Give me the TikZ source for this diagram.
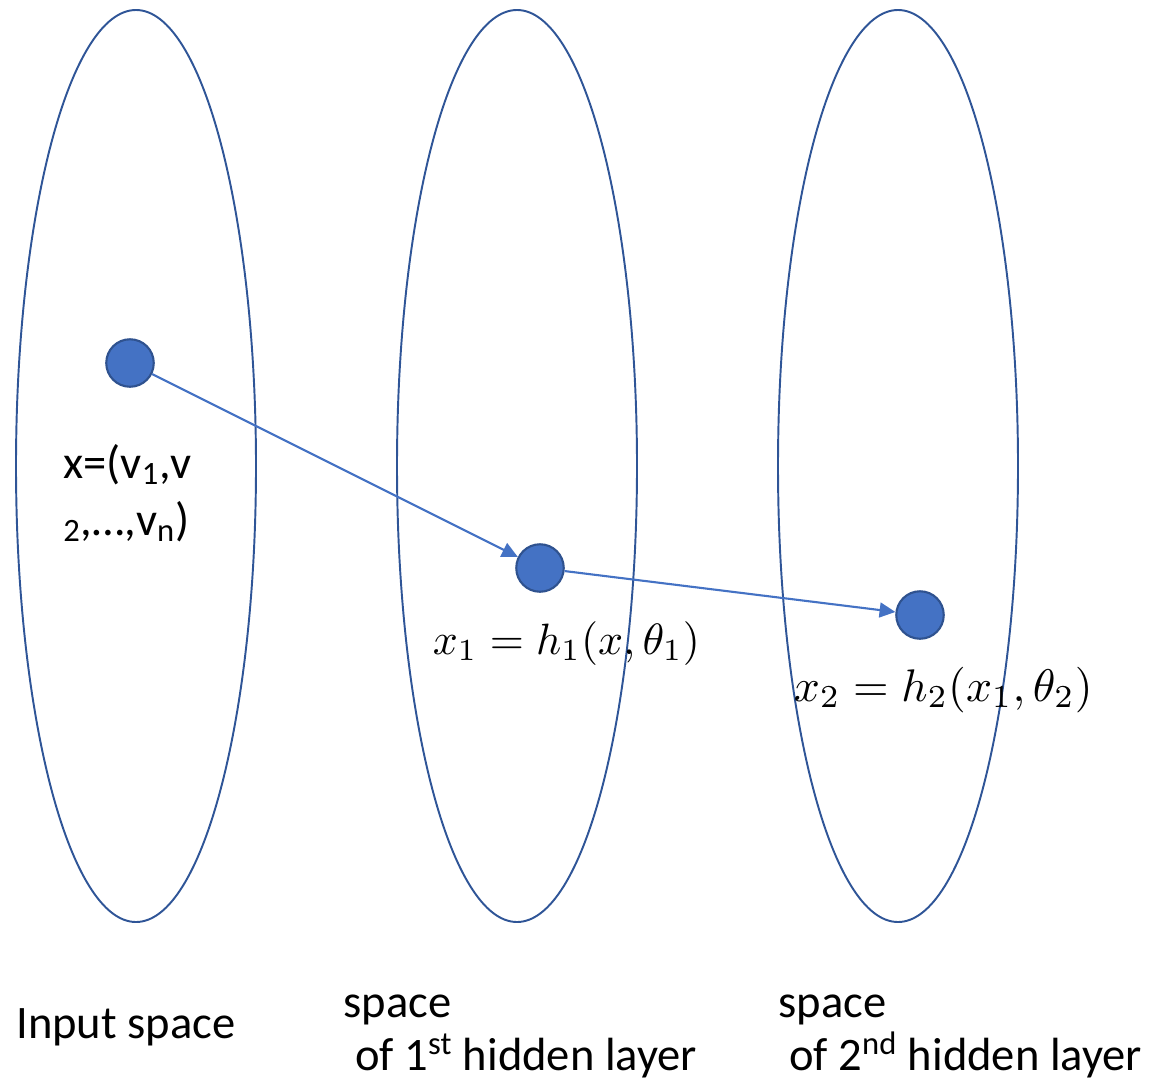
\documentclass[tikz,border=0pt]{standalone}
\usepackage{fontspec}
\setmainfont{Carlito}
\usetikzlibrary{arrows.meta,positioning}

\definecolor{rimblue}{HTML}{2F5597}
\definecolor{dotblue}{HTML}{4472C4}
\definecolor{dotedge}{HTML}{2F528F}

\begin{document}
\begin{tikzpicture}[x=0.02cm,y=-0.02cm,
  dot/.style={circle, fill=dotblue, draw=dotedge, line width=1.2pt, minimum size=0.95cm, inner sep=0pt},
  map/.style={draw=dotblue, line width=1.2pt, -{Triangle[length=9pt,width=8.5pt]}},
  lbl/.style={font=\fontsize{26.5}{30}\selectfont, inner sep=0pt, anchor=base west},
  formula/.style={scale=2.6, inner sep=0pt, anchor=base west}]

% Parameters
\def\rx{120}       % half width of a space
\def\ry{456}       % half height of a space
\def\cy{466}       % common centre height

\useasboundingbox (0,0) rectangle (1156,1086);

% The three spaces
\foreach \cx in {136,517,898} {
    \draw[rimblue, line width=1.1pt] (\cx,\cy) ellipse [x radius=\rx, y radius=\ry];
}

% Points in each space
\node[dot] (p0) at (130,363) {};
\node[dot] (p1) at (540,568) {};
\node[dot] (p2) at (920,615) {};

% Mappings between the spaces
\draw[map] (p0) -- (p1);
\draw[map] (p1) -- (p2);

% Point labels
\node[lbl] (xin) at (63,478) {x=(v\textsubscript{1},v};
\node[lbl] (xinb) at (63,535) {\textsubscript{2},…,v\textsubscript{n})};
\node[formula, scale=0.96] (f1) at (432,654) {$x_1 = h_1(x,\theta_1)$};
\node[formula] (f2) at (793,701) {$x_2 = h_2(x_1,\theta_2)$};

% Space names
\node[lbl] (inp) at (16,1038) {Input space};
\node[lbl] (sp1) at (343,1017) {space};
\node[lbl] (hl1) at (355,1070) {of 1\textsuperscript{st} hidden layer};
\node[lbl] (sp2) at (778,1017) {space};
\node[lbl] (hl2) at (789,1070) {of 2\textsuperscript{nd} hidden layer};

\end{tikzpicture}
\end{document}
